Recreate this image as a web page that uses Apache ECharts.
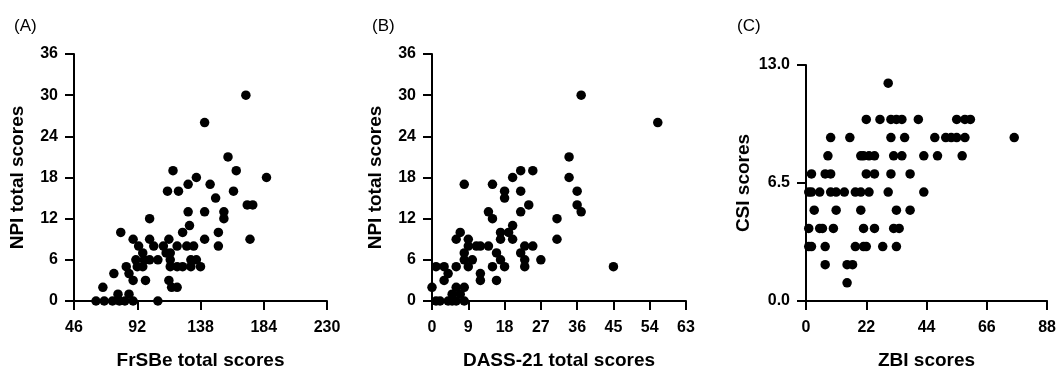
<!DOCTYPE html>
<html>
<head>
<meta charset="utf-8">
<script src="https://cdn.jsdelivr.net/npm/echarts@6/dist/echarts.min.js"></script>
<style>
html,body{margin:0;padding:0;background:#fff;}
#c{width:1059px;height:375px;}
</style>
</head>
<body>
<div id="c"></div>
<script>
// ---- Data ----
const panelLabels = ['(A)', '(B)', '(C)'];
const xNames = ['FrSBe total scores', 'DASS-21 total scores', 'ZBI scores'];
const yNames = ['NPI total scores', 'NPI total scores', 'CSI scores'];

const frsbeVsNpi = [
  [171,30],[141,26],[158,21],[118,19],[164,19],[135,18],[186,18],[129,17],[145,17],
  [114,16],[122,16],[162,16],[149,15],[172,14],[176,14],[129,13],[141,13],[155,13],
  [155,12],[101,12],[130,11],[125,10],[151,10],[80,10],[174,9],[141,9],[89,9],[101,9],
  [115,9],[151,8],[93,8],[104,8],[111,8],[121,8],[128,8],[133,8],[96,7],[113,7],[116,7],
  [91,6],[97,6],[101,6],[107,6],[116,6],[131,6],[135,6],[84,5],[92,5],[96,5],[116,5],
  [121,5],[125,5],[131,5],[138,5],[75,4],[86,4],[89,3],[98,3],[115,3],[117,2],[121,2],
  [67,2],[78,1],[86,1],[62,0],[68,0],[74,0],[79,0],[83,0],[89,0],[107,0]
];

const dassVsNpi = [
  [37,30],[56,26],[34,21],[34,18],[36,16],[36,14],[37,13],[45,5],[31,12],[31,9],
  [8,17],[15,17],[20,18],[22,19],[25,19],[18,16],[18,15],[22,16],[24,14],[22,13],
  [14,13],[15,12],[20,11],[17,10],[19,10],[17,9],[20,9],[7,10],[6,9],[9,9],[9,8],
  [11,8],[12,8],[14,8],[23,8],[25,8],[8,7],[16,7],[22,7],[8,6],[10,6],[17,6],[23,6],
  [27,6],[1,5],[3,5],[6,5],[9,5],[15,5],[18,5],[23,5],[4,4],[12,4],[3,3],[12,3],
  [16,3],[0,2],[6,2],[8,2],[5,1],[7,1],[1,0],[2,0],[4,0],[5,0],[6,0],[8,0]
];

const zbiVsCsi = [
  [30,12],
  [22,10],[27,10],[31,10],[33,10],[35,10],[41,10],[55,10],[58,10],[60,10],
  [9,9],[16,9],[31,9],[36,9],[47,9],[51,9],[53,9],[55,9],[58,9],[76,9],
  [8,8],[20,8],[21,8],[23,8],[25,8],[32,8],[35,8],[43,8],[48,8],[57,8],
  [2,7],[7,7],[9,7],[22,7],[25,7],[31,7],[38,7],
  [1,6],[2,6],[5,6],[9,6],[11,6],[14,6],[18,6],[20,6],[23,6],[30,6],[43,6],
  [3,5],[11,5],[20,5],[33,5],[38,5],
  [1,4],[5,4],[6,4],[10,4],[21,4],[25,4],[32,4],[34,4],
  [1,3],[2,3],[7,3],[18,3],[21,3],[22,3],[28,3],[33,3],
  [7,2],[15,2],[17,2],
  [15,1]
];

const xRanges = [[46,230,46],[0,63,9],[0,88,22]];
const yRanges = [[0,36,6],[0,36,6],[0,13,6.5]];
const seriesData = [frsbeVsNpi, dassVsNpi, zbiVsCsi];

// ---- Layout / style ----
const grids = [
  {left:74, top:54, width:253, height:254},
  {left:432, top:54, width:254, height:254},
  {left:806, top:65, width:245, height:243}
];
const yNameGaps = [47, 47, 53];
const labelPos = [[14,27],[372,27],[737,27]];

const FONT = "'Liberation Sans Narrow','Arial Narrow','Liberation Sans',Arial,sans-serif";
const axisCommon = {
  axisLine:{show:true, lineStyle:{color:'#000', width:2}},
  axisTick:{show:true, length:9, lineStyle:{color:'#000', width:2}},
  splitLine:{show:false},
  axisLabel:{color:'#000', fontSize:16, fontWeight:'bold', fontFamily:FONT},
  nameTextStyle:{color:'#000', fontSize:19, fontWeight:'bold', fontFamily:FONT}
};

const chart = echarts.init(document.getElementById('c'), null, {renderer:'canvas'});
const option = {
  animation:false,
  backgroundColor:'#fff',
  grid: grids.map(g => Object.assign({containLabel:false}, g)),
  xAxis: xRanges.map((r,i) => Object.assign({}, JSON.parse(JSON.stringify(axisCommon)), {
    type:'value', gridIndex:i, min:r[0], max:r[1], interval:r[2],
    name:xNames[i], nameLocation:'middle', nameGap:50,
    axisLabel:Object.assign({}, axisCommon.axisLabel, {margin:19})
  })),
  yAxis: yRanges.map((r,i) => Object.assign({}, JSON.parse(JSON.stringify(axisCommon)), {
    type:'value', gridIndex:i, min:r[0], max:r[1], interval:r[2],
    name:yNames[i], nameLocation:'middle', nameGap:yNameGaps[i], nameRotate:90,
    axisLabel:Object.assign({}, axisCommon.axisLabel, {margin:16,
      formatter: i===2 ? (v => v.toFixed(1)) : (v => String(v))})
  })),
  series: seriesData.map((d,i) => ({
    type:'scatter', xAxisIndex:i, yAxisIndex:i, data:d,
    symbol:'circle', symbolSize:9.5,
    itemStyle:{color:'#000', opacity:1}
  })),
  graphic: panelLabels.map((t,i) => ({
    type:'text', left:labelPos[i][0], top:labelPos[i][1]-9,
    style:{text:t, fill:'#000', fontSize:17, fontFamily:"'Liberation Sans',Arial,sans-serif"}
  }))
};
chart.setOption(option);
</script>
</body>
</html>
